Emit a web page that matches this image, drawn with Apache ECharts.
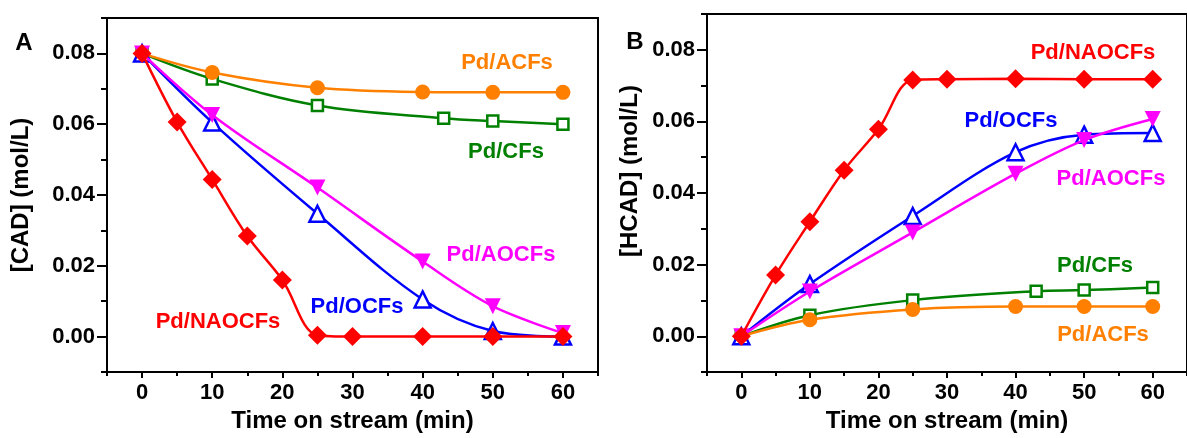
<!DOCTYPE html>
<html>
<head>
<meta charset="utf-8">
<title>CAD / HCAD vs time on stream</title>
<script src="https://cdn.jsdelivr.net/npm/echarts@6/dist/echarts.min.js"></script>
<style>
  html, body { margin: 0; padding: 0; background: #fff; }
  #chart { width: 1187px; height: 438px; }
</style>
</head>
<body>
<div id="chart"></div>
<script>
// time points (min)
const timeNaocfs = [0, 5, 10, 15, 20, 25, 30, 40, 50, 60]
const timeStd = [0, 10, 25, 40, 50, 60]
const timeCfs = [0, 10, 25, 43, 50, 60]

// panel A: [CAD] (mol/L)
const cadACFs = [0.080, 0.0746, 0.0703, 0.0691, 0.0690, 0.0690]
const cadCFs = [0.080, 0.0728, 0.0653, 0.0617, 0.0609, 0.0600]
const cadAOCFs = [0.080, 0.0626, 0.0421, 0.0212, 0.0086, 0.0010]
const cadOCFs = [0.080, 0.0605, 0.0347, 0.0105, 0.0016, 0.0000]
const cadNAOCFs = [0.080, 0.0606, 0.0444, 0.0284, 0.0160, 0.0004, 0.0, 0.0, 0.0, 0.0]

// panel B: [HCAD] (mol/L)
const hcadACFs = [0, 0.0046, 0.0075, 0.0083, 0.0083, 0.0083]
const hcadCFs = [0, 0.0059, 0.0101, 0.0126, 0.0129, 0.0136]
const hcadAOCFs = [0, 0.0125, 0.0290, 0.0454, 0.0548, 0.0607]
const hcadOCFs = [0, 0.0146, 0.0336, 0.0514, 0.0563, 0.0568]
const hcadNAOCFs = [0, 0.0171, 0.0320, 0.0464, 0.0578, 0.0716, 0.0718, 0.0719, 0.0718, 0.0718]

// ticks
const xMajor = [0, 10, 20, 30, 40, 50, 60]
const xMinor = [-5, 5, 15, 25, 35, 45, 55, 65]
const yMajor = [0, 0.02, 0.04, 0.06, 0.08]
const yMinor = [-0.01, 0.01, 0.03, 0.05, 0.07, 0.09]

const FONT = 'Liberation Sans, Arial, sans-serif'
const C = {
  ACFs: '#ff8000',
  CFs: '#008000',
  AOCFs: '#ff00ff',
  OCFs: '#0000ff',
  NAOCFs: '#ff0000'
}

const zip = (xs, ys) => xs.map((x, i) => [x, ys[i]])

const chart = echarts.init(document.getElementById('chart'))

// main axes
const mainX = (gridIndex, nameGap) => ({
  type: 'value',
  gridIndex,
  position: 'bottom',
  min: -5,
  max: 65,
  name: 'Time on stream (min)',
  nameLocation: 'middle',
  nameGap,
  nameTextStyle: { fontFamily: FONT, fontWeight: 'bold', fontSize: 24, color: '#000' },
  axisLine: { onZero: false, lineStyle: { color: '#000', width: 2 } },
  axisTick: { customValues: xMajor, length: 6, lineStyle: { color: '#000', width: 2 } },
  axisLabel: { customValues: xMajor, margin: 10, fontFamily: FONT, fontWeight: 'bold', fontSize: 22, color: '#000' },
  splitLine: { show: false }
})

const mainY = (gridIndex, name, nameGap, namePad) => ({
  type: 'value',
  gridIndex,
  position: 'left',
  min: -0.01,
  max: 0.09,
  name,
  nameLocation: 'middle',
  nameGap,
  nameTextStyle: { fontFamily: FONT, fontWeight: 'bold', fontSize: 24, color: '#000', padding: namePad },
  axisLine: { onZero: false, lineStyle: { color: '#000', width: 2 } },
  axisTick: { customValues: yMajor, length: 10, lineStyle: { color: '#000', width: 2 } },
  axisLabel: {
    customValues: yMajor,
    margin: 12,
    fontFamily: FONT,
    fontWeight: 'bold',
    fontSize: 22,
    color: '#000',
    formatter: v => v.toFixed(2)
  },
  splitLine: { show: false }
})

// minor tick overlays
const minorX = gridIndex => ({
  type: 'value',
  gridIndex,
  position: 'bottom',
  min: -5,
  max: 65,
  axisLine: { show: false, onZero: false },
  axisTick: { customValues: xMinor, length: 4, lineStyle: { color: '#000', width: 2 } },
  axisLabel: { show: false },
  splitLine: { show: false }
})

const minorY = gridIndex => ({
  type: 'value',
  gridIndex,
  position: 'left',
  min: -0.01,
  max: 0.09,
  axisLine: { show: false, onZero: false },
  axisTick: { customValues: yMinor, length: 6, lineStyle: { color: '#000', width: 2 } },
  axisLabel: { show: false },
  splitLine: { show: false }
})

const line = (name, color, data, axis, sym) => ({
  name,
  type: 'line',
  xAxisIndex: axis,
  yAxisIndex: axis,
  data,
  smooth: 0.35,
  symbol: sym.symbol,
  symbolSize: sym.size,
  symbolRotate: sym.rotate || 0,
  lineStyle: { color, width: 2.5 },
  itemStyle: sym.open
    ? { color: '#fff', borderColor: color, borderWidth: 2.5 }
    : { color, borderWidth: 0 },
  z: sym.z
})

const SYM = {
  CFs: { symbol: 'rect', size: 11, open: true, z: 2 },
  ACFs: { symbol: 'circle', size: 15, z: 3 },
  OCFs: { symbol: 'triangle', size: 16, open: true, z: 4 },
  AOCFs: { symbol: 'triangle', size: 16, rotate: 180, z: 5 },
  NAOCFs: { symbol: 'diamond', size: 19, z: 6 }
}

const label = (text, x, y, color, size = 22) => ({
  type: 'text',
  x,
  y,
  style: {
    text,
    fill: color,
    font: 'bold ' + size + 'px ' + FONT,
    textAlign: 'center',
    textVerticalAlign: 'middle'
  }
})

const option = {
  animation: false,
  backgroundColor: '#fff',
  grid: [
    { left: 107, top: 18, right: 589, bottom: 60, show: true, borderColor: '#000', borderWidth: 2 },
    { left: 707, top: 14, right: -8, bottom: 63, show: true, borderColor: '#000', borderWidth: 2 }
  ],
  xAxis: [mainX(0, 37), mainX(1, 36), minorX(0), minorX(1)],
  yAxis: [
    mainY(0, '[CAD] (mol/L)', 74, 0),
    mainY(1, '[HCAD] (mol/L)', 65, [0, 0, 0, 44]),
    minorY(0),
    minorY(1)
  ],
  series: [
    line('Pd/CFs', C.CFs, zip(timeCfs, cadCFs), 0, SYM.CFs),
    line('Pd/ACFs', C.ACFs, zip(timeStd, cadACFs), 0, SYM.ACFs),
    line('Pd/OCFs', C.OCFs, zip(timeStd, cadOCFs), 0, SYM.OCFs),
    line('Pd/AOCFs', C.AOCFs, zip(timeStd, cadAOCFs), 0, SYM.AOCFs),
    line('Pd/NAOCFs', C.NAOCFs, zip(timeNaocfs, cadNAOCFs), 0, SYM.NAOCFs),

    line('Pd/CFs', C.CFs, zip(timeCfs, hcadCFs), 1, SYM.CFs),
    line('Pd/ACFs', C.ACFs, zip(timeStd, hcadACFs), 1, SYM.ACFs),
    line('Pd/OCFs', C.OCFs, zip(timeStd, hcadOCFs), 1, SYM.OCFs),
    line('Pd/AOCFs', C.AOCFs, zip(timeStd, hcadAOCFs), 1, SYM.AOCFs),
    line('Pd/NAOCFs', C.NAOCFs, zip(timeNaocfs, hcadNAOCFs), 1, SYM.NAOCFs)
  ],
  graphic: [
    label('A', 24, 43, '#000', 24),
    label('B', 635, 42, '#000', 24),
    // panel A labels
    label('Pd/ACFs', 507, 63, C.ACFs),
    label('Pd/CFs', 506, 152, C.CFs),
    label('Pd/AOCFs', 501, 255, C.AOCFs),
    label('Pd/OCFs', 357, 307, C.OCFs),
    label('Pd/NAOCFs', 218, 322, C.NAOCFs),
    // panel B labels
    label('Pd/NAOCFs', 1093, 53, C.NAOCFs),
    label('Pd/OCFs', 1011, 121, C.OCFs),
    label('Pd/AOCFs', 1111, 179, C.AOCFs),
    label('Pd/CFs', 1095, 266, C.CFs),
    label('Pd/ACFs', 1103, 335, C.ACFs)
  ]
}

chart.setOption(option)
</script>
</body>
</html>
